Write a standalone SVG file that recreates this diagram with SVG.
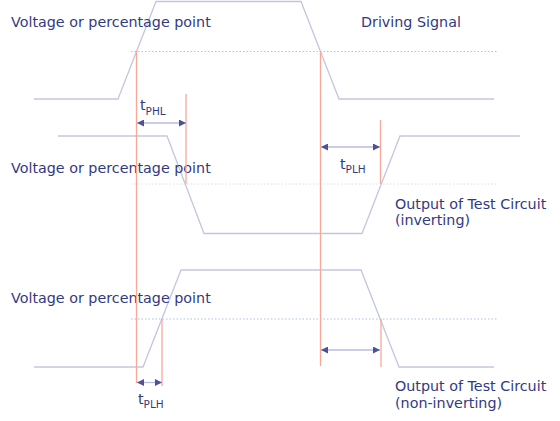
<svg xmlns="http://www.w3.org/2000/svg" width="560" height="421" viewBox="0 0 560 421">
<defs>
<style>
.trace{fill:none;stroke:#c3c6e2;stroke-width:1.3}
.ref{fill:none;stroke:#a9c0ec;stroke-width:1;stroke-dasharray:1.5 2}
.red{fill:none;stroke:#f9a898;stroke-width:1.3}
.arr{fill:none;stroke:#b8bde0;stroke-width:1.3;marker-start:url(#ah);marker-end:url(#ah)}
text{font-family:"DejaVu Sans","Verdana",sans-serif;fill:#323a82;font-size:14.3px}
.sub{font-size:10.5px}
</style>
<marker id="ah" viewBox="0 0 10 10" refX="10" refY="5" markerWidth="8" markerHeight="7" markerUnits="userSpaceOnUse" orient="auto-start-reverse">
<path d="M0,0 L10,5 L0,10 Z" fill="#4a5398"/>
</marker>
</defs>
<g id="driving-signal">
<polyline class="trace" points="34,99 118,99 156,1.5 301,1.5 339,99 494,99"/>
<line class="ref" x1="131" y1="51.5" x2="497" y2="51.5"/>
<text x="361" y="27">Driving Signal</text>
<text x="11" y="27">Voltage or percentage point</text>
</g>
<g id="output-inverting">
<polyline class="trace" points="58,136 167,136 204,233.5 362,233.5 400,136 520,136"/>
<line class="ref" x1="131" y1="184" x2="497" y2="184" style="stroke:#d8dce8"/>
<text x="11" y="173">Voltage or percentage point</text>
<text x="395" y="209">Output of Test Circuit</text>
<text x="395" y="225">(inverting)</text>
</g>
<g id="output-noninverting">
<polyline class="trace" points="34,367 143,367 181,270 361,270 399,367 494,367"/>
<line class="ref" x1="131" y1="319" x2="497" y2="319"/>
<text x="11" y="303">Voltage or percentage point</text>
<text x="395" y="391">Output of Test Circuit</text>
<text x="395" y="408">(non-inverting)</text>
</g>
<g id="connectors">
<line class="red" x1="136.5" y1="51" x2="136.5" y2="383"/>
<line class="red" x1="186" y1="94" x2="186" y2="184"/>
<line class="red" x1="320.5" y1="51" x2="320.5" y2="366"/>
<line class="red" x1="380.5" y1="120" x2="380.5" y2="184"/>
<line class="red" x1="162" y1="319" x2="162" y2="386"/>
<line class="red" x1="381" y1="319" x2="381" y2="367"/>
<line class="arr" x1="137" y1="123" x2="186" y2="123"/>
<line class="arr" x1="321" y1="147" x2="380" y2="147"/>
<line class="arr" x1="137" y1="382.5" x2="162" y2="382.5"/>
<line class="arr" x1="321" y1="350" x2="380" y2="350"/>
</g>
<g id="labels">
<text x="140" y="110">t<tspan class="sub" dy="5">PHL</tspan></text>
<text x="340" y="169">t<tspan class="sub" dy="4">PLH</tspan></text>
<text x="138" y="404">t<tspan class="sub" dy="4">PLH</tspan></text>
</g>
</svg>
